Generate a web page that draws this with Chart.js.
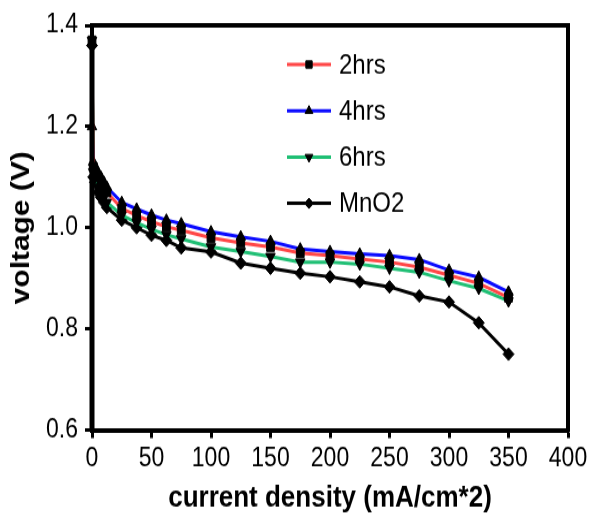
<!DOCTYPE html>
<html>
<head>
<meta charset="utf-8">
<script src="https://cdn.jsdelivr.net/npm/chart.js@4.4.0/dist/chart.umd.min.js"></script>
<style>
  html, body { margin: 0; padding: 0; background: #fff; }
  #page { width: 597px; height: 525px; overflow: hidden; }
  /* the source picture is stretched vertically, so draw flatter and stretch it back */
  #c { display: block; transform: scaleY(1.1513); transform-origin: 0 0; }
</style>
</head>
<body>
<div id="page"><canvas id="c" width="597" height="456"></canvas></div>
<script>
// current density (mA/cm^2), shared by every series
const currentDensity = [0, 1, 2.5, 5, 7.5, 10, 12.5, 25, 37.5, 50, 62.5, 75, 100, 125, 150, 175, 200, 225, 250, 275, 300, 325, 350];

// voltage (V)
const hrs2 = [1.37, 1.12, 1.11, 1.10, 1.09, 1.08, 1.07, 1.038, 1.024, 1.012, 1.002, 0.995, 0.98, 0.97, 0.962, 0.95, 0.945, 0.938, 0.932, 0.922, 0.906, 0.89, 0.862];
const hrs4 = [1.20, 1.13, 1.12, 1.11, 1.10, 1.09, 1.08, 1.05, 1.037, 1.025, 1.015, 1.008, 0.992, 0.982, 0.973, 0.958, 0.953, 0.948, 0.945, 0.937, 0.916, 0.902, 0.873];
const hrs6 = [1.37, 1.11, 1.10, 1.08, 1.07, 1.06, 1.05, 1.025, 1.01, 0.997, 0.986, 0.978, 0.962, 0.953, 0.943, 0.932, 0.932, 0.928, 0.92, 0.912, 0.895, 0.88, 0.855];
const mno2 = [1.36, 1.10, 1.09, 1.07, 1.06, 1.05, 1.04, 1.015, 1.0, 0.985, 0.975, 0.96, 0.952, 0.93, 0.92, 0.91, 0.903, 0.893, 0.883, 0.865, 0.853, 0.812, 0.75];

const xTicks = [0, 50, 100, 150, 200, 250, 300, 350, 400];
const yTicks = [0.6, 0.8, 1.0, 1.2, 1.4];

const pts = arr => arr.map((v, i) => ({ x: currentDensity[i], y: v }));

function series(label, values, color, style, rot) {
  return {
    label: label,
    data: pts(values),
    borderColor: color,
    borderWidth: 3,
    pointStyle: style,
    pointRotation: rot,
    pointRadius: 5.5,
    pointBackgroundColor: '#000',
    pointBorderColor: '#000',
    pointBorderWidth: 1,
    showLine: true,
    tension: 0,
    clip: false
  };
}

const insideLegend = {
  id: 'insideLegend',
  afterDatasetsDraw(chart) {
    const { ctx, chartArea } = chart;
    ctx.save();
    chart.data.datasets.forEach((ds, i) => {
      const y = chartArea.top + 34 + i * 40.2;
      const x0 = chartArea.left + 195, x1 = chartArea.left + 239;
      ctx.strokeStyle = ds.borderColor;
      ctx.lineWidth = 3;
      ctx.beginPath(); ctx.moveTo(x0, y); ctx.lineTo(x1, y); ctx.stroke();
      ctx.fillStyle = '#000';
      ctx.strokeStyle = '#000';
      ctx.lineWidth = 1;
      Chart.helpers.drawPoint(ctx, { pointStyle: ds.pointStyle, rotation: ds.pointRotation || 0, radius: 4.5, borderWidth: 1 }, (x0 + x1) / 2, y);
      ctx.font = '24px "Liberation Sans", Arial, sans-serif';
      ctx.textBaseline = 'middle';
      ctx.textAlign = 'left';
      ctx.fillText(ds.label, chartArea.left + 247, y + 1);
    });
    ctx.restore();
  }
};

// box round the plot; left side redrawn on top so it hides the lines hugging x = 0
const frame = {
  id: 'frame',
  afterDraw(chart) {
    const { ctx, chartArea: a } = chart;
    ctx.save();
    ctx.strokeStyle = '#000';
    ctx.lineWidth = 4;
    ctx.beginPath();
    ctx.moveTo(a.left, a.top);
    ctx.lineTo(a.right, a.top);
    ctx.lineTo(a.right, a.bottom + 2);
    ctx.stroke();
    ctx.lineWidth = 5;
    ctx.beginPath();
    ctx.moveTo(a.left, a.top + 14);
    ctx.lineTo(a.left, a.bottom);
    ctx.stroke();
    ctx.restore();
  }
};

new Chart(document.getElementById('c'), {
  type: 'scatter',
  data: {
    datasets: [
      series('2hrs', hrs2, '#ff4646', 'rect', 0),
      series('4hrs', hrs4, '#0a0aff', 'triangle', 0),
      series('6hrs', hrs6, '#1fbf74', 'triangle', 180),
      series('MnO2', mno2, '#000000', 'rectRot', 0)
    ]
  },
  options: {
    responsive: false,
    animation: false,
    devicePixelRatio: 1,
    layout: { padding: { top: 22, right: 29, left: 0, bottom: 0 } },
    plugins: { legend: { display: false }, tooltip: { enabled: false } },
    scales: {
      x: {
        type: 'linear', min: 0, max: 400,
        afterBuildTicks: s => { s.ticks = xTicks.map(v => ({ value: v })); },
        afterFit: s => { s.height = 82.5; },
        grid: { drawOnChartArea: false, drawTicks: true, tickLength: 7, tickWidth: 3, tickColor: '#000' },
        border: { color: '#000', width: 4 },
        ticks: { color: '#000', padding: 4, maxRotation: 0, font: { family: '"Liberation Sans", Arial, sans-serif', size: 23 } },
        title: { display: true, text: 'current density (mA/cm*2)', color: '#000', padding: { top: 0, bottom: 8 },
                 font: { family: '"Liberation Sans", Arial, sans-serif', size: 26, weight: 'bold' } }
      },
      y: {
        type: 'linear', min: 0.6, max: 1.4,
        afterBuildTicks: s => { s.ticks = yTicks.map(v => ({ value: v })); },
        afterFit: s => { s.width = 92; },
        grid: { drawOnChartArea: false, drawTicks: true, tickLength: 7, tickWidth: 3, tickColor: '#000' },
        border: { color: '#000', width: 4 },
        ticks: { color: '#000', padding: 7, callback: v => v.toFixed(1), font: { family: '"Liberation Sans", Arial, sans-serif', size: 23 } },
        title: { display: true, text: 'voltage (V)', color: '#000', padding: { top: 6, bottom: 0 },
                 font: { family: '"Liberation Sans", Arial, sans-serif', size: 26, weight: 'bold' } }
      }
    }
  },
  plugins: [insideLegend, frame]
});
</script>
</body>
</html>
